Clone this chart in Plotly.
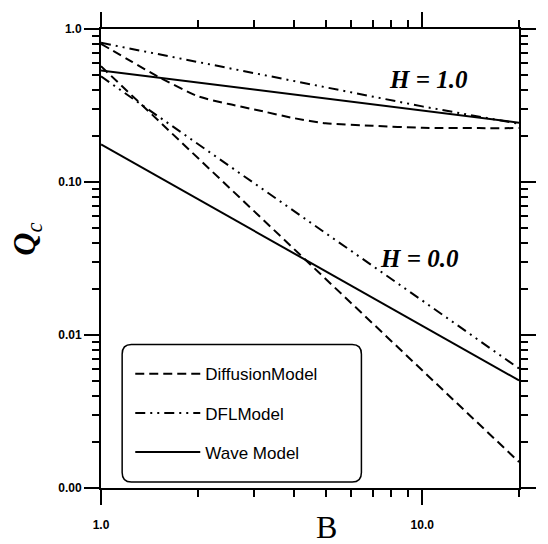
import plotly.graph_objects as go

# ---- data (log-log) ----
B_curve = [1.0, 1.25, 1.5, 2.0, 2.5, 3.0, 4.0, 5.0, 7.0, 10.0, 15.0, 20.0]
diff_h1 = [0.80, 0.61, 0.49, 0.364, 0.323, 0.298, 0.261, 0.242, 0.233, 0.226, 0.225, 0.225]

B = [1.0, 2.0, 5.0, 10.0, 20.0]
dfl_h1 = [0.812, 0.609, 0.419, 0.312, 0.240]
wave_h1 = [0.536, 0.447, 0.351, 0.293, 0.244]
diff_h0 = [0.571, 0.144, 0.0233, 0.00589, 0.00148]
dfl_h0 = [0.49, 0.178, 0.0463, 0.0168, 0.00604]
wave_h0 = [0.176, 0.0775, 0.0261, 0.0115, 0.00505]

x_tickvals = [1, 10]
x_ticktext = ["1.0", "10.0"]
y_tickvals = [0.001, 0.01, 0.1, 1.0]
y_ticktext = ["0.00", "0.01", "0.10", "1.0"]

legend_names = ["DiffusionModel", "DFLModel", "Wave Model"]

DASH_DIFF = "9px,5px"
DASH_DFL = "10px,5px,2px,5px,2px,5px"

fig = go.Figure()

styles = [
    (legend_names[0], DASH_DIFF, B_curve, diff_h1, B, diff_h0, "g1", "spline"),
    (legend_names[1], DASH_DFL, B, dfl_h1, B, dfl_h0, "g2", "linear"),
    (legend_names[2], "solid", B, wave_h1, B, wave_h0, "g3", "linear"),
]
for name, dash, x1, y1, x0, y0, grp, shp in styles:
    fig.add_trace(go.Scatter(x=x1, y=y1, mode="lines", name=name, legendgroup=grp,
                             line=dict(color="black", width=2, dash=dash, shape=shp, smoothing=0.6),
                             showlegend=True))
    fig.add_trace(go.Scatter(x=x0, y=y0, mode="lines", name=name, legendgroup=grp,
                             line=dict(color="black", width=2, dash=dash), showlegend=False))

minor_x = [2, 3, 4, 5, 6, 7, 8, 9, 20]
minor_y = [m * 10 ** k for k in (-3, -2, -1) for m in range(2, 10)]

tickfont = dict(family="Liberation Sans, Arial", size=12, color="black", weight="bold")

fig.update_xaxes(type="log", range=[0, 1.30103], tickmode="array", tickvals=x_tickvals,
                 ticktext=x_ticktext, ticks="outside", ticklen=15, tickwidth=2, tickcolor="black",
                 showline=True, linecolor="black", linewidth=2, mirror="ticks", showgrid=False,
                 zeroline=False, tickfont=tickfont, ticklabelstandoff=10,
                 minor=dict(tickmode="array", tickvals=minor_x, ticks="outside", ticklen=7,
                            tickwidth=2, tickcolor="black", showgrid=False))
fig.update_yaxes(type="log", range=[-3, 0], tickmode="array", tickvals=y_tickvals,
                 ticktext=y_ticktext, ticks="outside", ticklen=15, tickwidth=2, tickcolor="black",
                 showline=True, linecolor="black", linewidth=2, mirror="ticks", showgrid=False,
                 zeroline=False, tickfont=tickfont,
                 minor=dict(tickmode="array", tickvals=minor_y, ticks="outside", ticklen=7,
                            tickwidth=2, tickcolor="black", showgrid=False))

# rounded legend frame
x0, x1, y0, y1 = 0.0506, 0.623, 0.0129, 0.3125
rx, ry = 0.022, 0.021
path = (f"M {x0+rx},{y0} L {x1-rx},{y0} Q {x1},{y0} {x1},{y0+ry} "
        f"L {x1},{y1-ry} Q {x1},{y1} {x1-rx},{y1} L {x0+rx},{y1} Q {x0},{y1} {x0},{y1-ry} "
        f"L {x0},{y0+ry} Q {x0},{y0} {x0+rx},{y0} Z")
fig.add_shape(type="path", path=path, xref="paper", yref="paper",
              line=dict(color="black", width=1.5), fillcolor="white", layer="below")

serif_bi = dict(family="Liberation Serif, Times New Roman", color="black")
ann = dict(xref="paper", yref="paper", showarrow=False, xanchor="center", yanchor="middle")
fig.add_annotation(text="<b><i>H = 1.0</i></b>", x=0.784, y=0.890,
                   font=dict(size=25, **serif_bi), **ann)
fig.add_annotation(text="<b><i>H = 0.0</i></b>", x=0.761, y=0.500,
                   font=dict(size=25, **serif_bi), **ann)
fig.add_annotation(text="B", x=0.540, y=-0.0840,
                   font=dict(size=32, **serif_bi), **ann)
fig.add_annotation(text="<b><i>Q</i></b><sub><i>c</i></sub>", x=-0.177, y=0.541,
                   textangle=-90, font=dict(size=32, **serif_bi), **ann)

fig.update_layout(
    width=548, height=544,
    margin=dict(l=101, r=12, t=24, b=56),
    plot_bgcolor="white", paper_bgcolor="white",
    showlegend=True,
    legend=dict(x=0.07, y=0.287, xanchor="left", yanchor="top", bgcolor="rgba(0,0,0,0)",
                borderwidth=0, traceorder="grouped", tracegroupgap=14, itemwidth=65,
                font=dict(family="Liberation Sans, Arial", size=17, color="black")),
)

fig.write_html("out.html")
